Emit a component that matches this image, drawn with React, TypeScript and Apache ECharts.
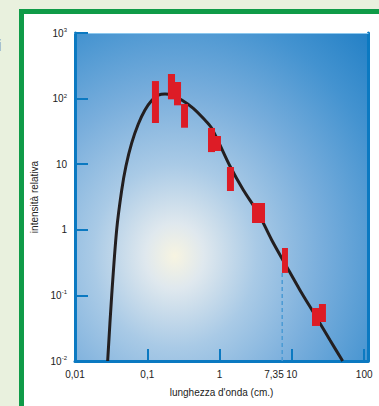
import React, { useEffect, useRef } from 'react';
import * as echarts from 'echarts';

// Black-body curve, points (wavelength in cm, relative intensity)
const curveLambda = [0.0283, 0.0322, 0.0377, 0.0443, 0.0507, 0.0608, 0.0751, 0.0929, 0.115, 0.142, 0.176, 0.218, 0.299, 0.433, 0.595, 0.778, 1.39, 2.13, 3.43, 5.26, 8.47, 12.9, 20.9, 33.6, 50.4];
const curveIntensity = [0.01, 0.101, 1.0, 4.04, 9.4, 21, 41, 67, 93.6, 113, 118, 113, 95, 71, 50, 35.3, 9.4, 4.05, 1.79, 0.7, 0.274, 0.121, 0.0502, 0.0209, 0.01];

// Measurements drawn as red error boxes
const errLambdaMin = [0.116, 0.193, 0.234, 0.293, 0.691, 0.864, 1.265, 2.81, 7.3, 18.97, 23.7];
const errLambdaMax = [0.145, 0.242, 0.293, 0.366, 0.864, 1.045, 1.58, 4.25, 8.83, 24.5, 29.6];
const errIntensityMin = [42.5, 97.5, 79, 36, 15.3, 15.9, 3.9, 1.27, 0.22, 0.0342, 0.0393];
const errIntensityMax = [185, 237, 179, 82.8, 35.7, 26.9, 9.06, 2.56, 0.528, 0.0643, 0.074];

// Penzias & Wilson wavelength marker
const markerLambda = 7.35;
const markerLabel = '7,35';
const markerIntensityTop = 0.22;

const xTickLabels = ['0,01', '0,1', '1', '10', '100'];
const yTickLabels = ['10{s|-2}', '10{s|-1}', '1', '10', '10{s|2}', '10{s|3}'];

const xTitle = "lunghezza d'onda (cm.)";
const yTitle = 'intensità relativa';

const FONT = '"Liberation Sans", Arial, Helvetica, sans-serif';
const AXIS_BLUE = '#0b79c1';
const TEXT = '#222';

export default function App() {
  const ref = useRef<HTMLDivElement>(null);

  useEffect(() => {
    if (!ref.current) return;
    const chart = echarts.init(ref.current, null, { renderer: 'svg' });

    const baseGraphic: any[] = [
      { id: 'frameGreen', type: 'rect', z: -2, silent: true, shape: { x: 19, y: 9, width: 420, height: 440 }, style: { fill: '#0f9b48' } },
      { id: 'frameWhite', type: 'rect', z: -1, silent: true, shape: { x: 24, y: 14, width: 420, height: 440 }, style: { fill: '#ffffff' } },
      { id: 'cutI', type: 'text', z: -1, silent: true, x: -2, y: 37, style: { text: 'i', fill: '#9a9a9a', font: '16px ' + FONT } },
    ];

    const axisLabelStyle = { fontSize: 10, color: TEXT, fontFamily: FONT };

    chart.setOption({
      animation: false,
      backgroundColor: '#e9f1de',
      graphic: baseGraphic,
      grid: {
        left: 75,
        right: 11,
        top: 33,
        bottom: 45,
        show: true,
        borderWidth: 0,
        outerBoundsMode: 'none',
        containLabel: false,
        backgroundColor: new echarts.graphic.RadialGradient(0.34, 0.68, 1.0, [
          { offset: 0, color: '#f7f4e1' },
          { offset: 0.1, color: '#dfe8ee' },
          { offset: 0.28, color: '#a9cae6' },
          { offset: 0.5, color: '#79aedc' },
          { offset: 0.75, color: '#4493d0' },
          { offset: 1, color: '#1a7bc3' },
        ]),
      },
      xAxis: [
        {
          type: 'log',
          logBase: 10,
          min: 0.01,
          max: 113,
          position: 'bottom',
          name: xTitle,
          nameLocation: 'middle',
          nameGap: 26,
          nameTextStyle: { fontSize: 10, color: TEXT, fontFamily: FONT },
          axisLine: { show: true, lineStyle: { color: AXIS_BLUE, width: 3 } },
          axisTick: { show: true, inside: true, length: 12, lineStyle: { color: AXIS_BLUE, width: 2 } },
          minorTick: { show: false },
          splitLine: { show: false },
          axisLabel: {
            ...axisLabelStyle,
            margin: 8,
            showMaxLabel: false,
            formatter: (v: number) => {
              const e = Math.round(Math.log10(v));
              return xTickLabels[e + 2] ?? '';
            },
          },
        },
        {
          type: 'log',
          logBase: 10,
          min: 0.01,
          max: 113,
          position: 'top',
          axisLine: { show: true, lineStyle: { color: '#8cc8ee', width: 1 } },
          axisTick: { show: false },
          axisLabel: { show: false },
          splitLine: { show: false },
        },
      ],
      yAxis: [
        {
          type: 'log',
          logBase: 10,
          min: 0.01,
          max: 1000,
          position: 'left',
          name: yTitle,
          nameLocation: 'middle',
          nameGap: 26,
          nameTextStyle: { fontSize: 10, color: TEXT, fontFamily: FONT },
          axisLine: { show: true, lineStyle: { color: AXIS_BLUE, width: 3 } },
          axisTick: { show: true, inside: true, length: 13, lineStyle: { color: AXIS_BLUE, width: 2 } },
          minorTick: { show: false },
          splitLine: { show: false },
          axisLabel: {
            ...axisLabelStyle,
            margin: 8,
            formatter: (v: number) => {
              const e = Math.round(Math.log10(v));
              return yTickLabels[e + 2] ?? '';
            },
            rich: {
              s: { fontSize: 6, color: TEXT, fontFamily: FONT, padding: [0, 0, 6, 0] },
            },
          },
        },
        {
          type: 'log',
          logBase: 10,
          min: 0.01,
          max: 1000,
          position: 'right',
          axisLine: { show: true, lineStyle: { color: AXIS_BLUE, width: 3 } },
          axisTick: { show: false },
          axisLabel: { show: false },
          splitLine: { show: false },
        },
      ],
      series: [
        {
          type: 'line',
          name: 'marker',
          xAxisIndex: 0,
          yAxisIndex: 0,
          data: [[markerLambda, markerIntensityTop], [markerLambda, 0.01]],
          symbol: 'none',
          lineStyle: { color: '#4a9ad4', width: 1.5, type: [4, 3] },
          z: 2,
          silent: true,
        },
        {
          type: 'line',
          name: 'curve',
          xAxisIndex: 0,
          yAxisIndex: 0,
          data: curveLambda.map((x, i) => [x, curveIntensity[i]]),
          symbol: 'none',
          smooth: 0.3,
          lineStyle: { color: '#231f20', width: 3 },
          z: 3,
          silent: true,
        },
        {
          type: 'custom',
          name: 'measurements',
          xAxisIndex: 0,
          yAxisIndex: 0,
          z: 4,
          silent: true,
          encode: { x: [0, 1], y: [2, 3] },
          data: errLambdaMin.map((x, i) => [x, errLambdaMax[i], errIntensityMin[i], errIntensityMax[i]]),
          renderItem: (params: any, api: any) => {
            const p1 = api.coord([api.value(0), api.value(3)]);
            const p2 = api.coord([api.value(1), api.value(2)]);
            return {
              type: 'rect',
              shape: { x: p1[0], y: p1[1], width: p2[0] - p1[0], height: p2[1] - p1[1] },
              style: { fill: '#dd1c26' },
            };
          },
        },
      ],
    });

    const px = chart.convertToPixel({ xAxisIndex: 0 }, markerLambda) as number;
    const py = chart.convertToPixel({ yAxisIndex: 0 }, 0.01) as number;
    chart.setOption({
      graphic: [
        ...baseGraphic,
        {
          id: 'markerLabel',
          type: 'text',
          silent: true,
          x: px + 1.5,
          y: py + 8,
          style: { text: markerLabel, fill: TEXT, font: '10px ' + FONT, align: 'right', verticalAlign: 'top' },
        },
      ],
    });

    return () => chart.dispose();
  }, []);

  return <div ref={ref} style={{ position: 'absolute', left: 0, top: 0, width: 379, height: 406 }} />;
}
